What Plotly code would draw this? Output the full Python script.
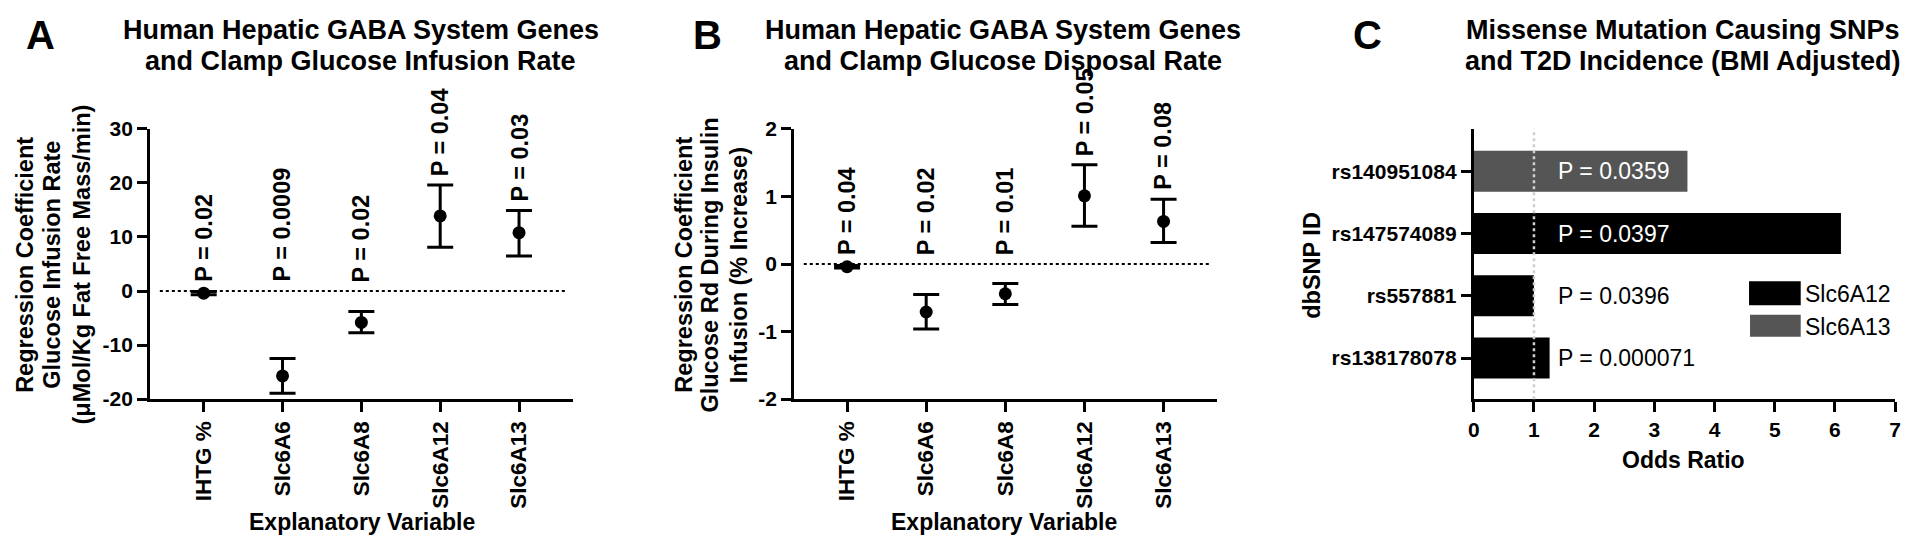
import plotly.graph_objects as go

W, H = 1920, 551

# ---------------- data ----------------
categories = ["IHTG %", "Slc6A6", "Slc6A8", "Slc6A12", "Slc6A13"]

a_coef = [-0.4, -15.7, -5.8, 13.9, 10.8]
a_low = [-0.7, -18.9, -7.7, 8.1, 6.5]
a_high = [-0.1, -12.5, -3.8, 19.6, 14.9]
a_pvals = ["P = 0.02", "P = 0.0009", "P = 0.02", "P = 0.04", "P = 0.03"]
a_ticks = [-20, -10, 0, 10, 20, 30]
a_ticklabels = ["-20", "-10", "0", "10", "20", "30"]

b_coef = [-0.04, -0.71, -0.44, 1.01, 0.63]
b_low = [-0.06, -0.96, -0.60, 0.56, 0.32]
b_high = [-0.02, -0.45, -0.29, 1.47, 0.96]
b_pvals = ["P = 0.04", "P = 0.02", "P = 0.01", "P = 0.05", "P = 0.08"]
b_ticks = [-2, -1, 0, 1, 2]
b_ticklabels = ["-2", "-1", "0", "1", "2"]

snps = ["rs140951084", "rs147574089", "rs557881", "rs138178078"]
odds_ratio = [3.55, 6.10, 1.00, 1.26]
snp_gene = ["Slc6A13", "Slc6A12", "Slc6A12", "Slc6A12"]
snp_pvals = ["P = 0.0359", "P = 0.0397", "P = 0.0396", "P = 0.000071"]
c_ticks = [0, 1, 2, 3, 4, 5, 6, 7]

gene_colors = {"Slc6A12": "#000000", "Slc6A13": "#555555"}

FONT = "Liberation Sans, Arial, Helvetica, sans-serif"


def px(x):
    return x / W


def py(y):
    return 1 - y / H


fig = go.Figure()

# ---------------- panels A and B ----------------
for i, (coef, lo, hi) in enumerate([(a_coef, a_low, a_high), (b_coef, b_low, b_high)]):
    xa = "x" if i == 0 else "x2"
    ya = "y" if i == 0 else "y2"
    fig.add_trace(go.Scatter(
        x=categories, y=coef, mode="markers",
        marker=dict(color="black", size=13, symbol="circle"),
        error_y=dict(type="data", symmetric=False,
                     array=[h - c for h, c in zip(hi, coef)],
                     arrayminus=[c - l for c, l in zip(coef, lo)],
                     color="black", thickness=3, width=13),
        xaxis=xa, yaxis=ya, showlegend=False, cliponaxis=False,
    ))

# ---------------- panel C ----------------
fig.add_trace(go.Bar(
    y=snps, x=odds_ratio, orientation="h",
    marker=dict(color=[gene_colors[g] for g in snp_gene], line=dict(width=0)),
    width=0.66, xaxis="x3", yaxis="y3", showlegend=False,
))

ydom = [py(404), py(122)]
common_axis = dict(showline=True, linewidth=3, linecolor="black", ticks="outside",
                   ticklen=10, tickwidth=3, tickcolor="black", showgrid=False,
                   zeroline=False, mirror=False)

cat_x = dict(common_axis, type="category", categoryorder="array", categoryarray=categories,
             tickangle=-90, tickfont=dict(family=FONT, size=22.5, color="black", weight="bold"))

tick_font = dict(family=FONT, size=21, color="black", weight="bold")

fig.update_layout(
    width=W, height=H, margin=dict(l=0, r=0, t=0, b=0),
    paper_bgcolor="white", plot_bgcolor="white",
    font=dict(family=FONT, color="black"),
    xaxis=dict(cat_x, domain=[px(145), px(571)], anchor="y", range=[-0.68, 4.69]),
    yaxis=dict(common_axis, domain=ydom, anchor="x", range=[-20, 30],
               tickvals=a_ticks, ticktext=a_ticklabels, tickfont=tick_font),
    xaxis2=dict(cat_x, domain=[px(793), px(1219)], anchor="y2", range=[-0.67, 4.68]),
    yaxis2=dict(common_axis, domain=ydom, anchor="x2", range=[-2, 2],
                tickvals=b_ticks, ticktext=b_ticklabels, tickfont=tick_font),
    xaxis3=dict(common_axis, domain=[px(1477), px(1901)], anchor="y3", range=[0, 7],
                tickvals=c_ticks, tickfont=tick_font),
    yaxis3=dict(common_axis, domain=ydom, anchor="x3", range=[-0.66, 3.68],
                type="category", categoryorder="array", categoryarray=snps[::-1],
                tickfont=tick_font),
)

shapes = []
# zero reference lines
for xr, yr in [("x domain", "y"), ("x2 domain", "y2")]:
    shapes.append(dict(type="line", xref=xr, yref=yr, x0=0.023, x1=0.986, y0=0, y1=0,
                       line=dict(color="black", width=2, dash="dot"), layer="below"))
# odds ratio = 1 reference
shapes.append(dict(type="line", xref="x3", yref="y3 domain", x0=1, x1=1, y0=0, y1=1,
                   line=dict(color="#cfcfcf", width=2.5, dash="dot"), layer="above"))
# manual legend boxes
shapes.append(dict(type="rect", xref="paper", yref="paper", x0=px(1754), x1=px(1806),
                   y0=py(306), y1=py(281), fillcolor=gene_colors["Slc6A12"], line=dict(width=0)))
shapes.append(dict(type="rect", xref="paper", yref="paper", x0=px(1755), x1=px(1806),
                   y0=py(339), y1=py(316), fillcolor=gene_colors["Slc6A13"], line=dict(width=0)))
fig.update_layout(shapes=shapes)

ann = []
bold = dict(family=FONT, color="black", weight="bold")

# p-value labels, panels A and B
for xa, ya, hi, labels in [("x", "y", a_high, a_pvals), ("x2", "y2", b_high, b_pvals)]:
    for c, h, t in zip(categories, hi, labels):
        ann.append(dict(x=c, y=max(h, 0), xref=xa, yref=ya, text=t, showarrow=False,
                        textangle=-90, xanchor="center", yanchor="bottom", yshift=7,
                        font=dict(bold, size=23.5)))

# p-value labels, panel C
for s, o, t in zip(snps, odds_ratio, snp_pvals):
    ann.append(dict(x=1.36, y=s, xref="x3", yref="y3", text=t, showarrow=False,
                    xanchor="left", yanchor="middle",
                    font=dict(family=FONT, size=23, color="white" if o > 3 else "black")))

# legend text
for g, yy in [("Slc6A12", 294), ("Slc6A13", 329)]:
    ann.append(dict(x=px(1808), y=py(yy), xref="paper", yref="paper", text=g,
                    showarrow=False, xanchor="left", yanchor="middle",
                    font=dict(family=FONT, size=23, color="black")))

# panel letters
for letter, xx in [("A", 35), ("B", 706), ("C", 1370)]:
    ann.append(dict(x=px(xx), y=py(24), xref="paper", yref="paper", text=letter,
                    showarrow=False, xanchor="center", yanchor="middle",
                    font=dict(bold, size=40)))

# titles (one annotation per line)
titles = [
    (["Human Hepatic GABA System Genes", "and Clamp Glucose Infusion Rate"], 357),
    (["Human Hepatic GABA System Genes", "and Clamp Glucose Disposal Rate"], 1003),
    (["Missense Mutation Causing SNPs", "and T2D Incidence (BMI Adjusted)"], 1688),
]
for lines, xx in titles:
    for line, yy in zip(lines, [19, 51]):
        ann.append(dict(x=px(xx), y=py(yy), xref="paper", yref="paper", text=line,
                        showarrow=False, xanchor="center", yanchor="middle",
                        font=dict(bold, size=27)))

# y-axis titles (one annotation per line)
ytitles = [
    ("Regression Coefficient", 19), ("Glucose Infusion Rate", 46),
    ("(\u03bcMol/Kg Fat Free Mass/min)", 76),
    ("Regression Coefficient", 682), ("Glucose Rd During Insulin", 708),
    ("Infusion (% Increase)", 738),
    ("dbSNP ID", 1314),
]
for t, xx in ytitles:
    ann.append(dict(x=px(xx), y=py(264), xref="paper", yref="paper", text=t,
                    showarrow=False, textangle=-90, xanchor="center", yanchor="middle",
                    font=dict(bold, size=23.5)))

# x-axis titles
for t, xx, yy in [("Explanatory Variable", 358, 532), ("Explanatory Variable", 1004, 532),
                  ("Odds Ratio", 1688, 467)]:
    ann.append(dict(x=px(xx), y=py(yy), xref="paper", yref="paper", text=t,
                    showarrow=False, xanchor="center", yanchor="middle",
                    font=dict(bold, size=23)))

fig.update_layout(annotations=ann)

fig.write_html(
    "out.html",
    config={"displayModeBar": False},
    post_script="document.body.style.margin='0';document.body.style.overflow='hidden';",
)
